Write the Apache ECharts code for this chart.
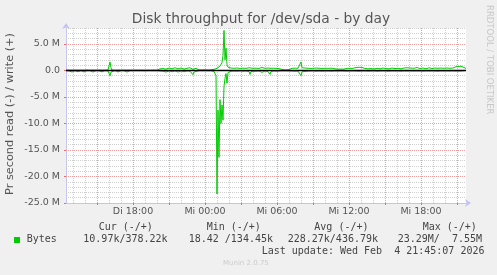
<!DOCTYPE html>
<html>
<head>
<meta charset="utf-8">
<script src="https://cdn.jsdelivr.net/npm/echarts@6/dist/echarts.min.js"></script>
<style>
html,body{margin:0;padding:0;background:#f0f0f0;}
#c{width:497px;height:275px;}
</style>
</head>
<body>
<div id="c"></div>
<script>
// ---- Data (time = minutes since Tue 00:00, values in MB/s) ----
const startMin = 745;   // Di 12:25
const endMin = 2745;    // Mi 21:45
const times = [
  745,760,775,790,805,820,835,850,865,880,895,910,925,940,955,960,965,970,975,990,
  1005,1020,1035,1050,1065,1080,1095,1110,1125,1140,1155,1170,1185,1200,1215,1230,1245,1260,1275,1290,
  1305,1320,1335,1350,1365,1375,1380,1385,1395,1410,1425,1440,1455,1470,1480,1485,1490,1495,1500,1505,
  1510,1515,1520,1525,1530,1535,1540,1545,1550,1555,1560,1570,1585,1600,1615,1630,1645,1660,1665,1670,
  1680,1695,1710,1725,1740,1755,1765,1770,1785,1800,1815,1830,1845,1860,1875,1890,1905,1915,1920,1925,
  1935,1950,1965,1980,1995,2010,2025,2040,2050,2060,2075,2090,2105,2120,2135,2150,2165,2180,2195,2210,
  2225,2240,2255,2270,2285,2300,2315,2330,2345,2360,2375,2390,2405,2420,2435,2450,2460,2470,2485,2500,
  2515,2530,2545,2560,2575,2590,2605,2620,2635,2650,2665,2680,2695,2705,2720,2730,2745
];
const writeM = [
  0.08,0.06,0.05,0.07,0.05,0.06,0.05,0.08,0.05,0.06,0.05,0.07,0.05,0.06,0.10,0.40,1.60,0.50,0.08,0.05,
  0.06,0.05,0.07,0.05,0.06,0.05,0.07,0.05,0.06,0.05,0.06,0.05,0.07,0.05,0.30,0.35,0.25,0.45,0.30,0.50,
  0.30,0.45,0.25,0.40,0.50,0.30,0.20,0.30,0.40,0.10,0.10,0.12,0.10,0.12,0.15,0.20,0.30,0.30,0.40,0.50,
  0.40,0.80,0.60,1.50,2.80,7.55,2.00,4.20,1.00,0.60,0.50,0.45,0.40,0.45,0.38,0.42,0.40,0.50,0.75,0.45,
  0.40,0.42,0.38,0.55,0.40,0.45,0.60,0.40,0.42,0.38,0.30,0.12,0.10,0.15,0.40,0.42,0.40,0.50,1.60,0.50,
  0.40,0.42,0.38,0.40,0.45,0.40,0.38,0.40,0.35,0.40,0.42,0.30,0.25,0.25,0.25,0.40,0.38,0.40,0.55,0.60,
  0.55,0.38,0.30,0.35,0.28,0.40,0.30,0.45,0.35,0.30,0.45,0.35,0.40,0.30,0.45,0.50,0.75,0.45,0.40,0.55,
  0.35,0.45,0.30,0.50,0.35,0.45,0.40,0.45,0.40,0.45,0.40,0.45,0.70,0.80,0.80,0.55,0.38
];
const readM = [
  -0.05,-0.10,-0.30,-0.06,-0.25,-0.05,-0.28,-0.05,-0.06,-0.30,-0.05,-0.08,-0.26,-0.05,-0.10,-0.30,-1.00,-0.30,-0.08,-0.05,
  -0.28,-0.05,-0.06,-0.30,-0.05,-0.07,-0.05,-0.06,-0.05,-0.08,-0.05,-0.05,-0.06,-0.05,-0.10,-0.15,-0.30,-0.10,-0.25,-0.10,
  -0.30,-0.10,-0.25,-0.10,-0.15,-0.20,-0.80,-0.30,-0.10,-0.05,-0.05,-0.05,-0.06,-0.05,-0.10,-0.20,-0.50,-1.00,-23.30,-7.50,
  -16.40,-5.50,-10.00,-6.50,-9.40,-3.00,-1.50,-0.60,-2.40,-0.40,-0.20,-0.15,-0.12,-0.15,-0.10,-0.15,-0.12,-0.20,-0.75,-0.20,
  -0.12,-0.15,-0.12,-0.35,-0.12,-0.20,-0.75,-0.20,-0.12,-0.15,-0.10,-0.08,-0.08,-0.10,-0.12,-0.15,-0.12,-0.20,-1.00,-0.25,
  -0.12,-0.15,-0.12,-0.10,-0.15,-0.12,-0.15,-0.12,-0.40,-0.12,-0.15,-0.10,-0.12,-0.10,-0.12,-0.15,-0.12,-0.10,-0.12,-0.15,
  -0.12,-0.10,-0.15,-0.12,-0.10,-0.15,-0.12,-0.10,-0.12,-0.15,-0.10,-0.12,-0.10,-0.15,-0.10,-0.12,-0.15,-0.10,-0.12,-0.10,
  -0.12,-0.15,-0.10,-0.12,-0.10,-0.12,-0.15,-0.10,-0.12,-0.10,-0.12,-0.10,-0.12,-0.10,-0.12,-0.10,-0.01
];

// ---- Axis ticks / labels ----
const dayNames = ['Di', 'Mi'];
const labelTimes = [1080, 1440, 1800, 2160, 2520];
const majorTimes = [900, 1080, 1260, 1440, 1620, 1800, 1980, 2160, 2340, 2520, 2700];
const hourTimes = [];
for (let t = 780; t <= 2700; t += 60) if (majorTimes.indexOf(t) < 0) hourTimes.push(t);
const yMin = -25, yMax = 8, yMajor = 5, yMinor = 1;
const yMajorVals = [], yMinorVals = [];
for (let v = yMin + yMinor; v <= yMax; v += yMinor) {
  if (v % yMajor === 0) yMajorVals.push(v); else yMinorVals.push(v);
}

// ---- Texts ----
const titleText = 'Disk throughput for /dev/sda - by day';
const yName = 'Pr second read (-) / write (+)';
const sideText = 'RRDTOOL / TOBI OETIKER';
const seriesName = 'Bytes';
const legendHeaders = ['Cur (-/+)', 'Min (-/+)', 'Avg (-/+)', 'Max (-/+)'];
const legendValues = ['10.97k/378.22k', '18.42 /134.45k', '228.27k/436.79k', '23.29M/  7.55M'];
const lastUpdate = 'Last update: Wed Feb  4 21:45:07 2026';
const muninVer = 'Munin 2.0.75';

const headerX = [98.7, 206.7, 314.3, 422.7];
const valueX = [83.3, 188.7, 287.7, 397.7];

function fmtTime(v) {
  const d = dayNames[Math.floor(v / 1440)] || '';
  const m = v % 1440;
  const hh = Math.floor(m / 60), mm = m % 60;
  return d + ' ' + String(hh).padStart(2, '0') + ':' + String(mm).padStart(2, '0');
}
function fmtY(v) {
  if (Math.abs(v % yMajor) > 1e-9) return '';
  if (v === 0) return '0.0';
  return v.toFixed(1) + ' M';
}

const SANS = '"DejaVu Sans", sans-serif';
const MONO = '"DejaVu Sans Mono", monospace';
const gridMajor = '#eaa0a0';
const gridMinor = '#cfcfcf';
const axisCol = '#c4c4f4';
const green = '#00cc00';

const graphics = [
  {type:'text', x:261, y:19, style:{text:titleText, fontSize:13.8, fontFamily:SANS, fill:'#555', align:'center', verticalAlign:'middle'}},
  {type:'text', x:10.5, y:114, rotation:Math.PI/2, style:{text:yName, fontSize:11.3, fontFamily:SANS, fill:'#555', align:'center', verticalAlign:'middle'}},
  {type:'text', x:489.5, y:5, rotation:-Math.PI/2, style:{text:sideText, fontSize:8.5, fontFamily:SANS, fill:'#c8c8c8', align:'left', verticalAlign:'middle'}},
  {type:'rect', shape:{x:14, y:237, width:6, height:6}, style:{fill:green}},
  {type:'text', x:26.7, y:239.7, style:{text:seriesName, fontSize:10, fontFamily:MONO, fill:'#444', align:'left', verticalAlign:'middle'}},
  {type:'text', x:261.7, y:251.2, style:{text:lastUpdate, fontSize:10, fontFamily:MONO, fill:'#444', align:'left', verticalAlign:'middle'}},
  {type:'text', x:223, y:263.5, style:{text:muninVer, fontSize:7, fontFamily:SANS, fill:'#cccccc', align:'left', verticalAlign:'middle'}}
];
legendHeaders.forEach((h, i) => graphics.push({type:'text', x:headerX[i], y:227.5, style:{text:h, fontSize:10, fontFamily:MONO, fill:'#444', align:'left', verticalAlign:'middle'}}));
legendValues.forEach((v, i) => graphics.push({type:'text', x:valueX[i], y:239.7, style:{text:v, fontSize:10, fontFamily:MONO, fill:'#444', align:'left', verticalAlign:'middle'}}));

// grid lines as markLines (dotted, minor grey / major red)
const gridLines = []
  .concat(hourTimes.map(t => ({xAxis:t, lineStyle:{color:gridMinor}})))
  .concat(yMinorVals.map(v => ({yAxis:v, lineStyle:{color:gridMinor}})))
  .concat(majorTimes.map(t => ({xAxis:t, lineStyle:{color:gridMajor}})))
  .concat(yMajorVals.filter(v => v !== 0).map(v => ({yAxis:v, lineStyle:{color:gridMajor}})));

const chart = echarts.init(document.getElementById('c'), null, {renderer:'canvas'});
chart.setOption({
  backgroundColor:'#f0f0f0',
  animation:false,
  grid:{left:66, top:28, width:400, height:175, show:true, backgroundColor:'#ffffff', borderWidth:0},
  xAxis:[
    {type:'value', min:startMin, max:endMin, position:'bottom',
     axisLine:{show:true, onZero:false, lineStyle:{color:axisCol, width:1}, symbol:['none','arrow'], symbolSize:[6,6], symbolOffset:[0,5]},
     axisTick:{show:true, customValues:majorTimes, length:2, lineStyle:{color:'#e07070'}},
     axisLabel:{customValues:labelTimes, formatter:fmtTime, fontSize:9.5, fontFamily:SANS, color:'#555', margin:4},
     splitLine:{show:false}}
  ],
  yAxis:[
    {type:'value', min:yMin, max:yMax, interval:yMajor, position:'left',
     axisLine:{show:true, onZero:false, lineStyle:{color:axisCol, width:1}, symbol:['none','arrow'], symbolSize:[6,6], symbolOffset:[0,5]},
     axisTick:{show:true, length:2, lineStyle:{color:'#e07070'}},
     axisLabel:{formatter:fmtY, showMaxLabel:false, fontSize:9.5, fontFamily:SANS, color:'#555', margin:6},
     splitLine:{show:false}}
  ],
  series:[
    {type:'line', name:'grid', symbol:'none', silent:true, data:[], z:1,
     markLine:{silent:true, symbol:'none', label:{show:false}, animation:false, z:1,
       lineStyle:{type:'dotted', width:1}, data:gridLines}},
    {type:'line', name:seriesName + ' read', symbol:'none', silent:true, z:3,
     data:times.map((t, i) => [t, readM[i]]), lineStyle:{color:green, width:1}},
    {type:'line', name:seriesName + ' write', symbol:'none', silent:true, z:3,
     data:times.map((t, i) => [t, writeM[i]]), lineStyle:{color:green, width:1}},
    {type:'line', name:'zero', symbol:'none', silent:true, data:[], z:4,
     markLine:{silent:true, symbol:'none', label:{show:false}, animation:false, z:4,
       lineStyle:{color:'#000000', width:1.4, type:'solid'}, data:[{yAxis:0}]}}
  ],
  graphic:graphics
});
</script>
</body>
</html>
